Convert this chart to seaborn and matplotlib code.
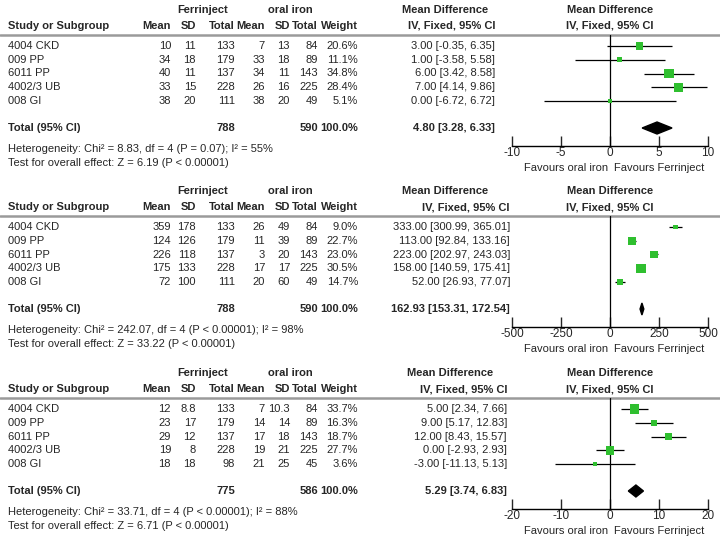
import matplotlib
matplotlib.use("Agg")
import matplotlib.pyplot as plt
import numpy as np
import pandas as pd
import seaborn as sns

studies = ["4004 CKD", "009 PP", "6011 PP", "4002/3 UB", "008 GI"]

# panel 1
p1_fe_mean = ["10", "34", "40", "33", "38"]
p1_fe_sd = ["11", "18", "11", "15", "20"]
p1_fe_n = [133, 179, 137, 228, 111]
p1_or_mean = ["7", "33", "34", "26", "38"]
p1_or_sd = ["13", "18", "11", "16", "20"]
p1_or_n = [84, 89, 143, 225, 49]
p1_weight = [20.6, 11.1, 34.8, 28.4, 5.1]
p1_md = [3.00, 1.00, 6.00, 7.00, 0.00]
p1_lo = [-0.35, -3.58, 3.42, 4.14, -6.72]
p1_hi = [6.35, 5.58, 8.58, 9.86, 6.72]
p1_total = (788, 590, 4.80, 3.28, 6.33)
p1_het = "Heterogeneity: Chi² = 8.83, df = 4 (P = 0.07); I² = 55%"
p1_test = "Test for overall effect: Z = 6.19 (P < 0.00001)"
p1_ticks = [-10, -5, 0, 5, 10]

# panel 2
p2_fe_mean = ["359", "124", "226", "175", "72"]
p2_fe_sd = ["178", "126", "118", "133", "100"]
p2_fe_n = [133, 179, 137, 228, 111]
p2_or_mean = ["26", "11", "3", "17", "20"]
p2_or_sd = ["49", "39", "20", "17", "60"]
p2_or_n = [84, 89, 143, 225, 49]
p2_weight = [9.0, 22.7, 23.0, 30.5, 14.7]
p2_md = [333.00, 113.00, 223.00, 158.00, 52.00]
p2_lo = [300.99, 92.84, 202.97, 140.59, 26.93]
p2_hi = [365.01, 133.16, 243.03, 175.41, 77.07]
p2_total = (788, 590, 162.93, 153.31, 172.54)
p2_het = "Heterogeneity: Chi² = 242.07, df = 4 (P < 0.00001); I² = 98%"
p2_test = "Test for overall effect: Z = 33.22 (P < 0.00001)"
p2_ticks = [-500, -250, 0, 250, 500]

# panel 3
p3_fe_mean = ["12", "23", "29", "19", "18"]
p3_fe_sd = ["8.8", "17", "12", "8", "18"]
p3_fe_n = [133, 179, 137, 228, 98]
p3_or_mean = ["7", "14", "17", "19", "21"]
p3_or_sd = ["10.3", "14", "18", "21", "25"]
p3_or_n = [84, 89, 143, 225, 45]
p3_weight = [33.7, 16.3, 18.7, 27.7, 3.6]
p3_md = [5.00, 9.00, 12.00, 0.00, -3.00]
p3_lo = [2.34, 5.17, 8.43, -2.93, -11.13]
p3_hi = [7.66, 12.83, 15.57, 2.93, 5.13]
p3_total = (775, 586, 5.29, 3.74, 6.83)
p3_het = "Heterogeneity: Chi² = 33.71, df = 4 (P < 0.00001); I² = 88%"
p3_test = "Test for overall effect: Z = 6.71 (P < 0.00001)"
p3_ticks = [-20, -10, 0, 10, 20]

sns.set_style("white")
plt.rcParams["font.family"] = ["Liberation Sans", "DejaVu Sans"]
plt.rcParams["axes.unicode_minus"] = False
FS = 8
GREEN = "#2fbf2f"

fig = plt.figure(figsize=(7.2, 5.4), dpi=100)
base = fig.add_axes([0, 0, 1, 1])
base.set_xlim(0, 720)
base.set_ylim(540, 0)
base.axis("off")


def txt(x, y, s, ha="right", bold=False, size=FS):
    base.text(x, y, s, ha=ha, va="center", fontsize=size,
              fontweight="bold" if bold else "normal")


def panel(off, fe_mean, fe_sd, fe_n, or_mean, or_sd, or_n, weight, md, lo, hi,
          total, het, test, ticks, ci_x, md_head_x):
    cols = [171, 196, 235, 265, 290, 318, 358]
    txt(203, off + 10, "Ferrinject", ha="center", bold=True)
    txt(290, off + 10, "oral iron", ha="center", bold=True)
    txt(md_head_x, off + 10, "Mean Difference", ha="center", bold=True)
    txt(610, off + 10, "Mean Difference", ha="center", bold=True)
    txt(8, off + 26, "Study or Subgroup", ha="left", bold=True)
    for x, h in zip(cols, ["Mean", "SD", "Total", "Mean", "SD", "Total", "Weight"]):
        txt(x, off + 26, h, bold=True)
    txt(ci_x, off + 26, "IV, Fixed, 95% CI", bold=True)
    txt(610, off + 26, "IV, Fixed, 95% CI", ha="center", bold=True)
    base.plot([0, 720], [off + 35, off + 35], color="#9a9a9a", lw=1.8)

    rows = [off + 46 + 13.75 * i for i in range(len(studies))]
    for i, y in enumerate(rows):
        txt(8, y, studies[i], ha="left")
        vals = [fe_mean[i], fe_sd[i], fe_n[i], or_mean[i], or_sd[i], or_n[i],
                f"{weight[i]:.1f}%"]
        for x, v in zip(cols, vals):
            txt(x, y, str(v))
        txt(ci_x, y, f"{md[i]:.2f} [{lo[i]:.2f}, {hi[i]:.2f}]")
    ty = off + 128
    txt(8, ty, "Total (95% CI)", ha="left", bold=True)
    txt(235, ty, str(total[0]), bold=True)
    txt(318, ty, str(total[1]), bold=True)
    txt(358, ty, "100.0%", bold=True)
    txt(ci_x, ty, f"{total[2]:.2f} [{total[3]:.2f}, {total[4]:.2f}]", bold=True)
    txt(8, off + 149, het, ha="left")
    txt(8, off + 163, test, ha="left")

    # forest plot axes in pixel space
    x0, x1, y0, y1 = 512, 708, off + 35, off + 146
    ax = fig.add_axes([x0 / 720, 1 - y1 / 540, (x1 - x0) / 720, (y1 - y0) / 540])
    ax.set_xlim(ticks[0], ticks[-1])
    ax.set_ylim(y1, y0)
    ax.patch.set_alpha(0)
    for s in ["top", "left", "right"]:
        ax.spines[s].set_visible(False)
    ax.spines["bottom"].set_color("black")
    ax.spines["bottom"].set_linewidth(1)
    ax.set_yticks([])
    ax.set_xticks(ticks)
    ax.tick_params(axis="x", direction="in", length=7, width=1, pad=1,
                   labelsize=FS + 0.5, bottom=True)
    ax.axvline(0, color="black", lw=0.9)
    ax.hlines(rows, lo, hi, color="black", lw=0.9, zorder=2)
    df = pd.DataFrame({"md": md, "y": rows, "w": weight})
    side = 3 + np.array(weight) * 0.2
    sns.scatterplot(data=df, x="md", y="y", marker="s", s=(side * 0.72) ** 2,
                    color=GREEN, edgecolor=GREEN, linewidth=0, zorder=3,
                    ax=ax, legend=False)
    ax.set_xlabel("")
    ax.set_ylabel("")
    est, tlo, thi = total[2], total[3], total[4]
    ax.fill([tlo, est, thi, est], [ty, ty - 6, ty, ty + 6], color="black", zorder=3)
    txt(608, off + 168, "Favours oral iron", ha="right")
    txt(614, off + 168, "Favours Ferrinject", ha="left")


panel(0, p1_fe_mean, p1_fe_sd, p1_fe_n, p1_or_mean, p1_or_sd, p1_or_n, p1_weight,
      p1_md, p1_lo, p1_hi, p1_total, p1_het, p1_test, p1_ticks, 495, 445)
panel(181, p2_fe_mean, p2_fe_sd, p2_fe_n, p2_or_mean, p2_or_sd, p2_or_n, p2_weight,
      p2_md, p2_lo, p2_hi, p2_total, p2_het, p2_test, p2_ticks, 510, 445)
panel(363, p3_fe_mean, p3_fe_sd, p3_fe_n, p3_or_mean, p3_or_sd, p3_or_n, p3_weight,
      p3_md, p3_lo, p3_hi, p3_total, p3_het, p3_test, p3_ticks, 507, 450)

fig.savefig("out.png", dpi=100)
